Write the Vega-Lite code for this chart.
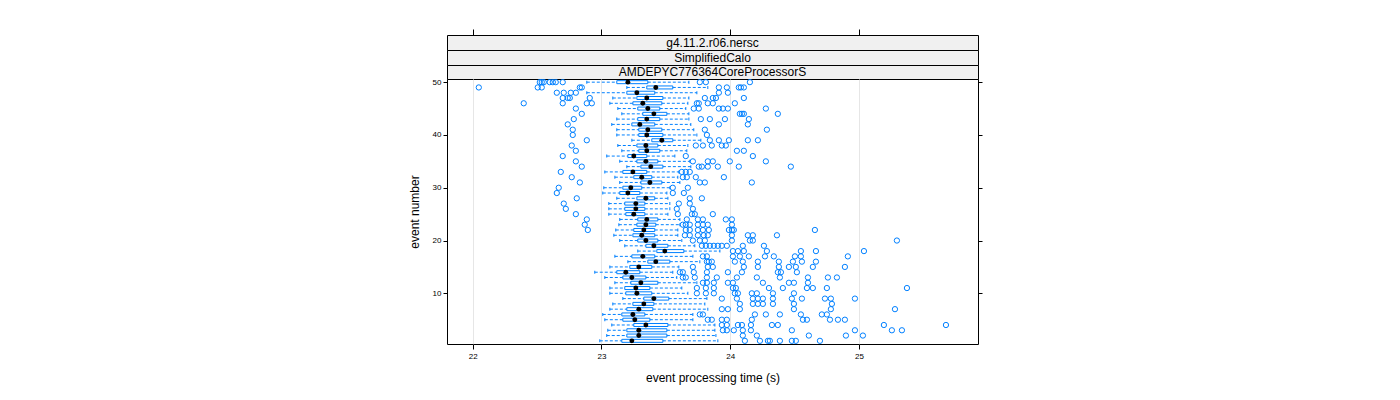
{
"$schema": "https://vega.github.io/schema/vega-lite/v6.json",
"background": "white",
"padding": {"left": 407, "top": 28, "right": 5, "bottom": 5},
"bounds": "flush",
"spacing": 0,
"config": {"font": "Liberation Sans", "view": {"stroke": null},
  "axis": {"labelFont": "Liberation Sans", "titleFont": "Liberation Sans", "titleFontWeight": "normal", "labelColor": "black", "titleColor": "black", "tickColor": "black"}},
"datasets": {
"stats": [
{"e":50,"lw":22.886,"q1":23.119,"md":23.205,"q3":23.360,"uw":23.679},
{"e":49,"lw":23.197,"q1":23.352,"md":23.422,"q3":23.554,"uw":23.826},
{"e":48,"lw":22.886,"q1":23.197,"md":23.275,"q3":23.414,"uw":23.741},
{"e":47,"lw":23.088,"q1":23.275,"md":23.352,"q3":23.477,"uw":23.679},
{"e":46,"lw":23.065,"q1":23.244,"md":23.321,"q3":23.469,"uw":23.671},
{"e":45,"lw":23.127,"q1":23.282,"md":23.360,"q3":23.453,"uw":23.655},
{"e":44,"lw":23.158,"q1":23.321,"md":23.407,"q3":23.508,"uw":23.679},
{"e":43,"lw":23.119,"q1":23.282,"md":23.352,"q3":23.453,"uw":23.679},
{"e":42,"lw":23.080,"q1":23.236,"md":23.298,"q3":23.414,"uw":23.694},
{"e":41,"lw":23.119,"q1":23.290,"md":23.360,"q3":23.469,"uw":23.717},
{"e":40,"lw":23.119,"q1":23.290,"md":23.352,"q3":23.477,"uw":23.741},
{"e":39,"lw":23.236,"q1":23.391,"md":23.469,"q3":23.554,"uw":23.772},
{"e":38,"lw":23.127,"q1":23.275,"md":23.345,"q3":23.438,"uw":23.671},
{"e":37,"lw":23.158,"q1":23.290,"md":23.352,"q3":23.453,"uw":23.663},
{"e":36,"lw":23.041,"q1":23.205,"md":23.251,"q3":23.352,"uw":23.570},
{"e":35,"lw":23.142,"q1":23.275,"md":23.345,"q3":23.438,"uw":23.686},
{"e":34,"lw":23.197,"q1":23.306,"md":23.383,"q3":23.477,"uw":23.694},
{"e":33,"lw":23.026,"q1":23.166,"md":23.244,"q3":23.352,"uw":23.601},
{"e":32,"lw":23.104,"q1":23.251,"md":23.313,"q3":23.391,"uw":23.593},
{"e":31,"lw":23.142,"q1":23.306,"md":23.376,"q3":23.469,"uw":23.609},
{"e":30,"lw":23.018,"q1":23.166,"md":23.228,"q3":23.313,"uw":23.531},
{"e":29,"lw":23.010,"q1":23.142,"md":23.205,"q3":23.298,"uw":23.508},
{"e":28,"lw":23.119,"q1":23.275,"md":23.345,"q3":23.414,"uw":23.516},
{"e":27,"lw":23.057,"q1":23.181,"md":23.267,"q3":23.337,"uw":23.531},
{"e":26,"lw":23.057,"q1":23.181,"md":23.267,"q3":23.337,"uw":23.531},
{"e":25,"lw":23.057,"q1":23.189,"md":23.251,"q3":23.337,"uw":23.516},
{"e":24,"lw":23.142,"q1":23.282,"md":23.352,"q3":23.438,"uw":23.609},
{"e":23,"lw":23.135,"q1":23.275,"md":23.345,"q3":23.422,"uw":23.609},
{"e":22,"lw":23.111,"q1":23.251,"md":23.329,"q3":23.414,"uw":23.593},
{"e":21,"lw":23.096,"q1":23.244,"md":23.313,"q3":23.414,"uw":23.593},
{"e":20,"lw":23.142,"q1":23.282,"md":23.345,"q3":23.438,"uw":23.624},
{"e":19,"lw":23.181,"q1":23.345,"md":23.407,"q3":23.516,"uw":23.725},
{"e":18,"lw":23.282,"q1":23.430,"md":23.492,"q3":23.640,"uw":23.920},
{"e":17,"lw":23.104,"q1":23.236,"md":23.321,"q3":23.414,"uw":23.710},
{"e":16,"lw":23.205,"q1":23.360,"md":23.422,"q3":23.531,"uw":23.764},
{"e":15,"lw":23.065,"q1":23.220,"md":23.290,"q3":23.391,"uw":23.601},
{"e":14,"lw":22.948,"q1":23.119,"md":23.189,"q3":23.298,"uw":23.554},
{"e":13,"lw":23.026,"q1":23.166,"md":23.236,"q3":23.345,"uw":23.585},
{"e":12,"lw":23.104,"q1":23.228,"md":23.306,"q3":23.438,"uw":23.741},
{"e":11,"lw":23.065,"q1":23.181,"md":23.267,"q3":23.376,"uw":23.624},
{"e":10,"lw":23.065,"q1":23.189,"md":23.275,"q3":23.391,"uw":23.671},
{"e":9,"lw":23.166,"q1":23.329,"md":23.407,"q3":23.523,"uw":23.819},
{"e":8,"lw":23.088,"q1":23.244,"md":23.329,"q3":23.407,"uw":23.803},
{"e":7,"lw":23.065,"q1":23.197,"md":23.290,"q3":23.399,"uw":23.826},
{"e":6,"lw":23.010,"q1":23.158,"md":23.244,"q3":23.337,"uw":23.710},
{"e":5,"lw":23.026,"q1":23.166,"md":23.259,"q3":23.376,"uw":23.710},
{"e":4,"lw":23.080,"q1":23.251,"md":23.345,"q3":23.516,"uw":23.881},
{"e":3,"lw":23.049,"q1":23.197,"md":23.290,"q3":23.508,"uw":23.881},
{"e":2,"lw":23.041,"q1":23.197,"md":23.290,"q3":23.508,"uw":23.889},
{"e":1,"lw":22.987,"q1":23.158,"md":23.236,"q3":23.477,"uw":23.904}
],
"out": [
{"e":50,"t":22.521},{"e":50,"t":22.536},{"e":50,"t":22.552},{"e":50,"t":22.598},{"e":50,"t":22.622},{"e":50,"t":22.645},{"e":50,"t":22.699},{"e":50,"t":23.764},{"e":50,"t":23.811},{"e":50,"t":24.153},
{"e":49,"t":22.047},{"e":49,"t":22.505},{"e":49,"t":22.536},{"e":49,"t":22.832},{"e":49,"t":22.847},{"e":49,"t":23.912},{"e":49,"t":23.974},{"e":49,"t":24.067},{"e":49,"t":24.083},{"e":49,"t":24.106},
{"e":48,"t":22.653},{"e":48,"t":22.707},{"e":48,"t":22.762},{"e":48,"t":22.801},{"e":48,"t":23.912},{"e":48,"t":23.982},
{"e":47,"t":22.699},{"e":47,"t":22.738},{"e":47,"t":22.754},{"e":47,"t":22.909},{"e":47,"t":23.803},{"e":47,"t":23.865},{"e":47,"t":23.889},{"e":47,"t":24.106},
{"e":46,"t":22.396},{"e":46,"t":22.699},{"e":46,"t":22.886},{"e":46,"t":22.925},{"e":46,"t":23.741},{"e":46,"t":23.756},{"e":46,"t":23.826},{"e":46,"t":23.865},{"e":46,"t":24.036},
{"e":45,"t":22.801},{"e":45,"t":23.717},{"e":45,"t":23.756},{"e":45,"t":23.912},{"e":45,"t":23.943},{"e":45,"t":23.982},{"e":45,"t":24.277},
{"e":44,"t":22.847},{"e":44,"t":24.075},{"e":44,"t":24.091},{"e":44,"t":24.106},{"e":44,"t":24.370},
{"e":43,"t":22.785},{"e":43,"t":23.772},{"e":43,"t":23.842},{"e":43,"t":23.959},{"e":43,"t":24.145},
{"e":42,"t":22.738},{"e":42,"t":23.912},{"e":42,"t":24.137},
{"e":41,"t":22.777},{"e":41,"t":23.803},{"e":41,"t":24.285},
{"e":40,"t":22.777},{"e":40,"t":23.819},
{"e":39,"t":22.886},{"e":39,"t":23.842},{"e":39,"t":23.912},{"e":39,"t":23.990},{"e":39,"t":24.137},{"e":39,"t":24.215},
{"e":38,"t":22.769},{"e":38,"t":23.733},{"e":38,"t":23.788},{"e":38,"t":23.857},{"e":38,"t":23.935},{"e":38,"t":23.966},
{"e":37,"t":22.801},{"e":37,"t":24.052},{"e":37,"t":24.106},
{"e":36,"t":22.699},{"e":36,"t":23.655},{"e":36,"t":24.176},
{"e":35,"t":22.801},{"e":35,"t":23.710},{"e":35,"t":23.826},{"e":35,"t":23.865},{"e":35,"t":23.997},{"e":35,"t":24.277},
{"e":34,"t":22.847},{"e":34,"t":23.756},{"e":34,"t":23.780},{"e":34,"t":23.826},{"e":34,"t":23.904},{"e":34,"t":24.067},{"e":34,"t":24.471},
{"e":33,"t":22.684},{"e":33,"t":23.624},{"e":33,"t":23.655},{"e":33,"t":23.686},
{"e":32,"t":22.769},{"e":32,"t":23.632},{"e":32,"t":23.663},{"e":32,"t":23.733},{"e":32,"t":23.951},
{"e":31,"t":22.832},{"e":31,"t":23.764},{"e":31,"t":23.803},{"e":31,"t":24.168},
{"e":30,"t":22.668},{"e":30,"t":23.554},{"e":30,"t":23.671},
{"e":29,"t":22.653},{"e":29,"t":23.554},{"e":29,"t":23.640},
{"e":28,"t":22.808},{"e":28,"t":23.686},{"e":28,"t":23.780},
{"e":27,"t":22.707},{"e":27,"t":23.601},{"e":27,"t":23.686},
{"e":26,"t":22.723},{"e":26,"t":23.585},{"e":26,"t":23.710},
{"e":25,"t":22.801},{"e":25,"t":23.593},{"e":25,"t":23.702},{"e":25,"t":23.725},{"e":25,"t":23.865},
{"e":24,"t":22.886},{"e":24,"t":23.663},{"e":24,"t":23.749},{"e":24,"t":23.788},{"e":24,"t":23.966},{"e":24,"t":24.013},
{"e":23,"t":22.870},{"e":23,"t":23.632},{"e":23,"t":23.655},{"e":23,"t":23.686},{"e":23,"t":23.749},{"e":23,"t":23.788},{"e":23,"t":23.826},{"e":23,"t":24.013},
{"e":22,"t":22.894},{"e":22,"t":23.655},{"e":22,"t":23.686},{"e":22,"t":23.749},{"e":22,"t":23.788},{"e":22,"t":23.834},{"e":22,"t":23.990},{"e":22,"t":24.013},{"e":22,"t":24.028},{"e":22,"t":24.658},
{"e":21,"t":23.648},{"e":21,"t":23.686},{"e":21,"t":23.749},{"e":21,"t":23.795},{"e":21,"t":23.826},{"e":21,"t":24.013},{"e":21,"t":24.137},{"e":21,"t":24.176},{"e":21,"t":24.363},
{"e":20,"t":23.710},{"e":20,"t":23.764},{"e":20,"t":23.803},{"e":20,"t":24.013},{"e":20,"t":24.153},{"e":20,"t":24.176},{"e":20,"t":25.295},
{"e":19,"t":23.780},{"e":19,"t":23.811},{"e":19,"t":23.842},{"e":19,"t":23.873},{"e":19,"t":23.904},{"e":19,"t":23.935},{"e":19,"t":23.974},{"e":19,"t":24.098},{"e":19,"t":24.262},
{"e":18,"t":24.021},{"e":18,"t":24.060},{"e":18,"t":24.106},{"e":18,"t":24.285},{"e":18,"t":24.549},{"e":18,"t":24.666},{"e":18,"t":25.039},
{"e":17,"t":23.788},{"e":17,"t":23.819},{"e":17,"t":24.021},{"e":17,"t":24.075},{"e":17,"t":24.145},{"e":17,"t":24.270},{"e":17,"t":24.339},{"e":17,"t":24.503},{"e":17,"t":24.549},{"e":17,"t":24.914},
{"e":16,"t":23.819},{"e":16,"t":23.834},{"e":16,"t":23.857},{"e":16,"t":24.036},{"e":16,"t":24.098},{"e":16,"t":24.215},{"e":16,"t":24.378},{"e":16,"t":24.487},{"e":16,"t":24.557},{"e":16,"t":24.666},
{"e":15,"t":23.710},{"e":15,"t":23.826},{"e":15,"t":23.865},{"e":15,"t":24.106},{"e":15,"t":24.215},{"e":15,"t":24.378},{"e":15,"t":24.456},{"e":15,"t":24.510},{"e":15,"t":24.642},{"e":15,"t":24.891},
{"e":14,"t":23.609},{"e":14,"t":23.632},{"e":14,"t":23.717},{"e":14,"t":23.819},{"e":14,"t":23.982},{"e":14,"t":24.091},{"e":14,"t":24.370},{"e":14,"t":24.394},{"e":14,"t":24.518},
{"e":13,"t":23.632},{"e":13,"t":23.655},{"e":13,"t":23.725},{"e":13,"t":23.819},{"e":13,"t":23.896},{"e":13,"t":24.052},{"e":13,"t":24.207},{"e":13,"t":24.386},{"e":13,"t":24.604},{"e":13,"t":24.759},{"e":13,"t":24.829},
{"e":12,"t":23.788},{"e":12,"t":23.819},{"e":12,"t":23.873},{"e":12,"t":23.982},{"e":12,"t":24.021},{"e":12,"t":24.254},{"e":12,"t":24.456},{"e":12,"t":24.495},{"e":12,"t":24.604},
{"e":11,"t":23.741},{"e":11,"t":23.811},{"e":11,"t":23.873},{"e":11,"t":24.021},{"e":11,"t":24.044},{"e":11,"t":24.301},{"e":11,"t":24.409},{"e":11,"t":24.596},{"e":11,"t":24.642},{"e":11,"t":24.751},{"e":11,"t":25.373},
{"e":10,"t":23.741},{"e":10,"t":23.811},{"e":10,"t":23.873},{"e":10,"t":24.036},{"e":10,"t":24.060},{"e":10,"t":24.168},{"e":10,"t":24.207},{"e":10,"t":24.332},{"e":10,"t":24.495},
{"e":9,"t":23.935},{"e":9,"t":24.052},{"e":9,"t":24.176},{"e":9,"t":24.215},{"e":9,"t":24.254},{"e":9,"t":24.332},{"e":9,"t":24.479},{"e":9,"t":24.557},{"e":9,"t":24.736},{"e":9,"t":24.782},{"e":9,"t":24.969},
{"e":8,"t":24.075},{"e":8,"t":24.176},{"e":8,"t":24.215},{"e":8,"t":24.254},{"e":8,"t":24.332},{"e":8,"t":24.495},{"e":8,"t":24.790},
{"e":7,"t":23.935},{"e":7,"t":23.982},{"e":7,"t":24.075},{"e":7,"t":24.495},{"e":7,"t":24.782},{"e":7,"t":25.280},
{"e":6,"t":23.764},{"e":6,"t":23.788},{"e":6,"t":24.192},{"e":6,"t":24.277},{"e":6,"t":24.386},{"e":6,"t":24.549},{"e":6,"t":24.712},{"e":6,"t":24.751},
{"e":5,"t":23.826},{"e":5,"t":23.857},{"e":5,"t":23.935},{"e":5,"t":23.974},{"e":5,"t":24.168},{"e":5,"t":24.565},{"e":5,"t":24.596},{"e":5,"t":24.775},{"e":5,"t":24.837},{"e":5,"t":24.891},
{"e":4,"t":23.935},{"e":4,"t":23.974},{"e":4,"t":24.060},{"e":4,"t":24.091},{"e":4,"t":24.161},{"e":4,"t":24.324},{"e":4,"t":24.370},{"e":4,"t":25.194},{"e":4,"t":25.676},
{"e":3,"t":23.943},{"e":3,"t":23.974},{"e":3,"t":24.028},{"e":3,"t":24.098},{"e":3,"t":24.161},{"e":3,"t":24.479},{"e":3,"t":24.969},{"e":3,"t":25.256},{"e":3,"t":25.334},
{"e":2,"t":24.098},{"e":2,"t":24.207},{"e":2,"t":24.611},{"e":2,"t":24.899},{"e":2,"t":25.031},
{"e":1,"t":24.114},{"e":1,"t":24.231},{"e":1,"t":24.293},{"e":1,"t":24.308},{"e":1,"t":24.386},{"e":1,"t":24.479},{"e":1,"t":24.510},{"e":1,"t":24.697}
]
},
"vconcat": [
{
 "width": 531, "height": 15,
 "view": {"fill": "#f0f0f0", "stroke": "black"},
 "data": {"values": [{"label": "g4.11.2.r06.nersc"}]},
 "mark": {"type": "text", "fontSize": 12, "color": "black", "font": "Liberation Sans"},
 "encoding": {
  "text": {"field": "label"},
  "x": {"datum": 23.8625, "type": "quantitative",
   "scale": {"domain": [21.8, 25.925], "nice": false, "zero": false, "padding": 0},
   "axis": {"orient": "top", "values": [22, 23, 24, 25], "labels": false, "domain": false, "grid": false, "tickSize": 6, "title": null}}
 }
},
{
 "width": 531, "height": 15,
 "view": {"fill": "#f0f0f0", "stroke": "black"},
 "data": {"values": [{"label": "SimplifiedCalo"}]},
 "mark": {"type": "text", "fontSize": 12, "color": "black", "font": "Liberation Sans"},
 "encoding": {"text": {"field": "label"}}
},
{
 "width": 531, "height": 14,
 "view": {"fill": "#f0f0f0", "stroke": "black"},
 "data": {"values": [{"label": "AMDEPYC776364CoreProcessorS"}]},
 "mark": {"type": "text", "fontSize": 12, "color": "black", "font": "Liberation Sans"},
 "encoding": {"text": {"field": "label"}}
},
{
 "width": 531, "height": 265,
 "view": {"stroke": "black", "fill": "white"},
 "resolve": {"axis": {"y": "independent"}},
 "layer": [
  {
   "data": {"name": "stats"},
   "mark": {"type": "rule", "color": "#0080ff", "strokeDash": [3, 2], "strokeWidth": 1},
   "encoding": {
    "x": {"field": "lw", "type": "quantitative",
     "scale": {"domain": [21.8, 25.925], "nice": false, "zero": false, "padding": 0},
     "axis": {"values": [22, 23, 24, 25], "format": "d", "tickSize": 5, "labelPadding": 3, "labelFontSize": 8, "domain": false, "grid": true, "gridColor": "#e6e6e6", "title": "event processing time (s)", "titleFontSize": 12, "titlePadding": 12}},
    "x2": {"field": "q1"},
    "y": {"field": "e", "type": "quantitative",
     "scale": {"domain": [0.4, 50.6], "nice": false, "zero": false, "padding": 0},
     "axis": {"values": [10, 20, 30, 40, 50], "tickSize": 4, "labelPadding": 2, "labelFontSize": 8, "domain": false, "grid": false, "title": "event number", "titleFontSize": 12, "titlePadding": 11}}
   }
  },
  {
   "data": {"name": "stats"},
   "mark": {"type": "rule", "color": "#0080ff", "strokeDash": [3, 2], "strokeWidth": 1},
   "encoding": {
    "x": {"field": "q3", "type": "quantitative"},
    "x2": {"field": "uw"},
    "y": {"field": "e", "type": "quantitative", "axis": {"orient": "right", "values": [10, 20, 30, 40, 50], "tickSize": 4, "labels": false, "domain": false, "grid": false, "title": null}}
   }
  },
  {
   "data": {"name": "stats"},
   "mark": {"type": "tick", "orient": "vertical", "color": "#0080ff", "thickness": 1, "opacity": 1},
   "encoding": {
    "x": {"field": "lw", "type": "quantitative"},
    "y": {"field": "e", "type": "quantitative", "axis": null},
    "size": {"value": 3}
   }
  },
  {
   "data": {"name": "stats"},
   "mark": {"type": "tick", "orient": "vertical", "color": "#0080ff", "thickness": 1, "opacity": 1},
   "encoding": {
    "x": {"field": "uw", "type": "quantitative"},
    "y": {"field": "e", "type": "quantitative", "axis": null},
    "size": {"value": 3}
   }
  },
  {
   "data": {"name": "stats"},
   "mark": {"type": "bar", "height": 3, "fill": "white", "fillOpacity": 0, "stroke": "#0080ff", "strokeWidth": 1},
   "encoding": {
    "x": {"field": "q1", "type": "quantitative"},
    "x2": {"field": "q3"},
    "y": {"field": "e", "type": "quantitative", "axis": null}
   }
  },
  {
   "data": {"name": "stats"},
   "mark": {"type": "point", "shape": "circle", "filled": true, "color": "black", "size": 24, "opacity": 1},
   "encoding": {
    "x": {"field": "md", "type": "quantitative"},
    "y": {"field": "e", "type": "quantitative", "axis": null}
   }
  },
  {
   "data": {"name": "out"},
   "mark": {"type": "point", "shape": "circle", "filled": false, "color": "#0080ff", "size": 28, "strokeWidth": 1, "opacity": 1},
   "encoding": {
    "x": {"field": "t", "type": "quantitative"},
    "y": {"field": "e", "type": "quantitative", "axis": null}
   }
  }
 ]
}
]
}
